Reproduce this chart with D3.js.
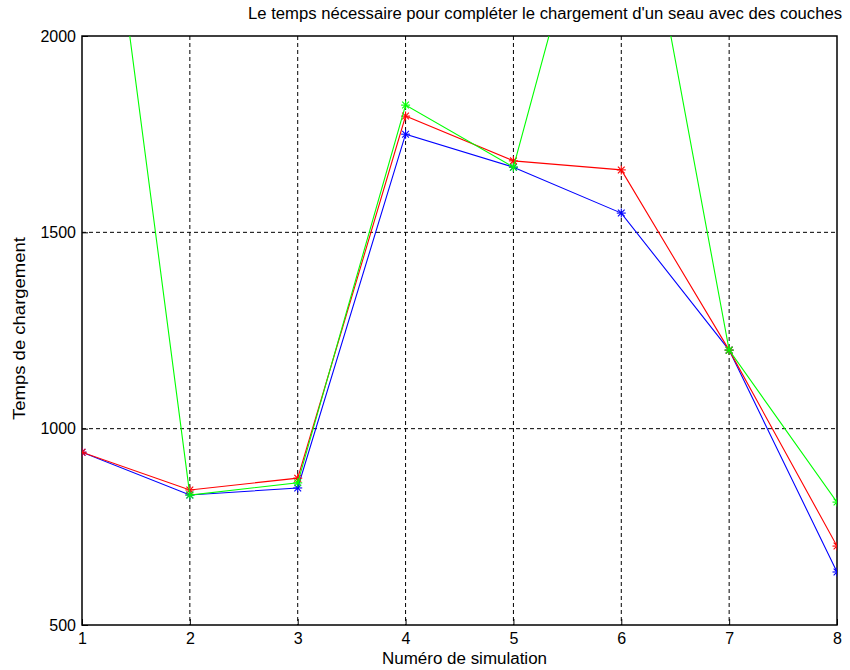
<!DOCTYPE html>
<html><head><meta charset="utf-8">
<script src="https://cdn.jsdelivr.net/npm/d3@7"></script>
<style>body{margin:0;background:#fff}svg{font-family:"Liberation Sans",Arial,sans-serif}</style>
</head><body>
<script>
const simulations = [1,2,3,4,5,6,7,8];
const blueSeries  = [940, 831, 849, 1750, 1666, 1549, 1200, 635];
const redSeries   = [940, 844, 874, 1796, 1682, 1659, 1200, 701];
const greenSeries = [2930, 831, 862, 1824, 1666, 2680, 1200, 813];
const yTicks = [500, 1000, 1500, 2000];
const xTicks = [1,2,3,4,5,6,7,8];
const titleText = "Le temps nécessaire pour compléter le chargement d'un seau avec des couches";
const xLabel = "Numéro de simulation";
const yLabel = "Temps de chargement";

const W = 850, H = 670;
const m = {l:82, r:13, t:36, b:45};
const svg = d3.select("body").append("svg").attr("width",W).attr("height",H);
const x = d3.scaleLinear().domain([1,8]).range([m.l, W-m.r]);
const y = d3.scaleLinear().domain([500,2000]).range([H-m.b, m.t]);

svg.append("defs").append("clipPath").attr("id","clip").append("rect")
  .attr("x",m.l).attr("y",m.t).attr("width",W-m.r-m.l).attr("height",H-m.b-m.t);

// grid
const g = svg.append("g");
g.selectAll(".gx").data(xTicks.slice(1,-1)).join("line")
  .attr("x1",d=>x(d)).attr("x2",d=>x(d)).attr("y1",m.t).attr("y2",H-m.b)
  .attr("stroke","#000").attr("stroke-dasharray","4,3").attr("stroke-width",1);
g.selectAll(".gy").data(yTicks.slice(1,-1)).join("line")
  .attr("y1",d=>y(d)).attr("y2",d=>y(d)).attr("x1",m.l).attr("x2",W-m.r)
  .attr("stroke","#000").attr("stroke-dasharray","4,3").attr("stroke-width",1);

// axes
const xAxis = svg.append("g").attr("transform",`translate(0,${H-m.b})`)
  .call(d3.axisBottom(x).tickValues(xTicks).tickSize(-6).tickPadding(8).tickFormat(d3.format("d")));
const yAxis = svg.append("g").attr("transform",`translate(${m.l},0)`)
  .call(d3.axisLeft(y).tickValues(yTicks).tickSize(-6).tickPadding(6).tickFormat(d3.format("d")));
[xAxis,yAxis].forEach(a=>{a.select(".domain").remove();a.selectAll("text").attr("font-size",16).attr("fill","#000").attr("font-family","Liberation Sans, Arial, sans-serif");});
svg.append("rect").attr("x",m.l).attr("y",m.t).attr("width",W-m.r-m.l).attr("height",H-m.b-m.t)
  .attr("fill","none").attr("stroke","#000").attr("stroke-width",1.5);

const series = [
  {vals: blueSeries, color:"#0000ff"},
  {vals: redSeries, color:"#ff0000"},
  {vals: greenSeries, color:"#00ff00"}
];
const plot = svg.append("g").attr("clip-path","url(#clip)");
const line = d3.line().x((d,i)=>x(simulations[i])).y(d=>y(d));
const s = 4.5;
series.forEach(se=>{
  plot.append("path").attr("d",line(se.vals)).attr("fill","none").attr("stroke",se.color).attr("stroke-width",1.1);
  const mk = plot.selectAll(null).data(se.vals).join("g")
    .attr("transform",(d,i)=>`translate(${x(simulations[i])},${y(d)})`)
    .attr("stroke",se.color).attr("stroke-width",1.1);
  mk.append("line").attr("x1",-s).attr("x2",s);
  mk.append("line").attr("y1",-s).attr("y2",s);
  mk.append("line").attr("x1",-s*0.75).attr("x2",s*0.75).attr("y1",-s*0.75).attr("y2",s*0.75);
  mk.append("line").attr("x1",-s*0.75).attr("x2",s*0.75).attr("y1",s*0.75).attr("y2",-s*0.75);
});

svg.append("text").attr("x",248).attr("y",19).attr("font-size",16)
  .attr("textLength",594).attr("lengthAdjust","spacingAndGlyphs").text(titleText);
svg.append("text").attr("x",382).attr("y",664).attr("font-size",16)
  .attr("textLength",165).attr("lengthAdjust","spacingAndGlyphs").text(xLabel);
svg.append("text").attr("transform",`translate(25,420) rotate(-90)`).attr("font-size",16)
  .attr("textLength",183).attr("lengthAdjust","spacingAndGlyphs").text(yLabel);
</script>
</body></html>
